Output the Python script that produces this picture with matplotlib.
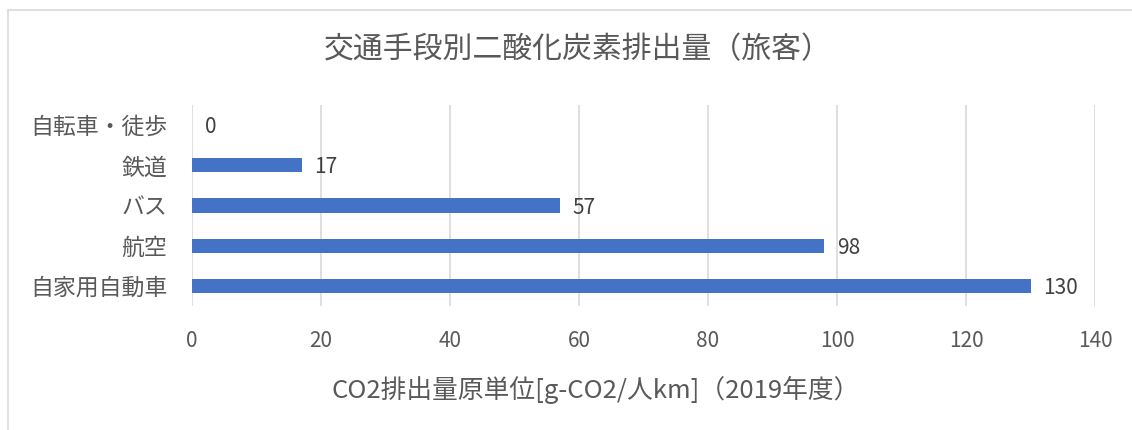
import matplotlib.pyplot as plt
from matplotlib.patches import Rectangle

plt.rcParams['font.family'] = ['Noto Sans CJK JP', 'DejaVu Sans']

# data
categories = ['自転車・徒歩', '鉄道', 'バス', '航空', '自家用自動車']
values = [0, 17, 57, 98, 130]
xticks = [0, 20, 40, 60, 80, 100, 120, 140]

W, H = 1132, 430
fig = plt.figure(figsize=(W / 100, H / 100), dpi=100)

# chart frame (light gray)
fig.patches.append(Rectangle((8 / W, -0.1), 1.2, 1 - 10 / H + 0.1, transform=fig.transFigure,
                             fill=False, edgecolor='#d9d9d9', linewidth=1.2))

ax = fig.add_axes([192 / W, 1 - 306 / H, (1095 - 192) / W, (306 - 105) / H])

ypos = list(range(len(categories)))
ax.barh(ypos, values, height=0.35, color='#4472C4', zorder=3)
ax.set_ylim(len(categories) - 0.5, -0.5)
ax.set_xlim(0, 140)
ax.set_xticks(xticks)
ax.set_xticklabels([str(t) for t in xticks])
ax.set_yticks(ypos)
ax.set_yticklabels(categories)

for y, v in zip(ypos, values):
    ax.text(v + 2.0, y + 0.05, str(v), va='center', ha='left', fontsize=15, color='#404040')

ax.grid(axis='x', color='#d9d9d9', linewidth=1.2, zorder=0)
for s in ax.spines.values():
    s.set_visible(False)
ax.tick_params(axis='x', length=0, labelsize=15, colors='#595959', pad=17)
ax.tick_params(axis='y', length=0, labelsize=16.5, colors='#595959', pad=18)

fig.text(578 / W, 1 - 50 / H, '交通手段別二酸化炭素排出量（旅客）', ha='center', va='center',
         fontsize=21.5, color='#595959')
fig.text(596 / W, 1 - 390 / H, 'CO2排出量原単位[g-CO2/人km]（2019年度）', ha='center', va='center',
         fontsize=18.5, color='#595959')

fig.savefig('out.png', dpi=100)
